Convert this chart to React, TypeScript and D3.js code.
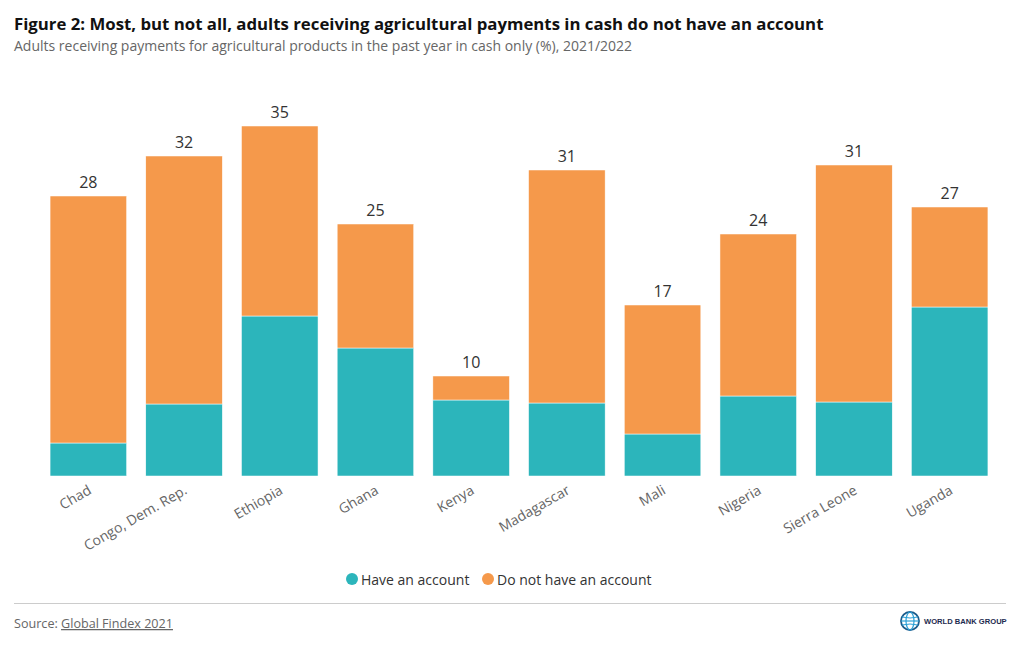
import React from "react";
import * as d3 from "d3";

const countries = ["Chad", "Congo, Dem. Rep.", "Ethiopia", "Ghana", "Kenya", "Madagascar", "Mali", "Nigeria", "Sierra Leone", "Uganda"];
const haveAccount = [3.3, 7.2, 16.0, 12.8, 7.6, 7.3, 4.2, 8.0, 7.4, 16.9];
const totalCash = [28.0, 32.0, 35.0, 25.2, 10.0, 30.6, 17.1, 24.2, 31.1, 26.9];
const noAccount = totalCash.map((t, i) => t - haveAccount[i]);
const seriesNames = ["Have an account", "Do not have an account"];
const seriesColors = ["#2cb5bb", "#f5994b"];

const W = 1020;
const H = 650;
const FONT = "'Open Sans', sans-serif";

export default function App() {
  const x = d3.scaleBand<string>().domain(countries).range([40.5, 997.5]).paddingInner(0.2).paddingOuter(0.1);
  const y = d3.scaleLinear().domain([0, 35]).range([476, 126]);
  const rows = countries.map((c, i) => ({ c, have: haveAccount[i], no: noAccount[i] }));
  const stack = d3.stack<any>().keys(["have", "no"])(rows as any);

  return (
    <svg width={W} height={H} style={{ position: "absolute", left: 0, top: 0, background: "#fff" }} fontFamily={FONT}>
      <rect width={W} height={H} fill="#fff" />
      <text x={14} y={30} fontSize={16.8} fontWeight={700} fill="#111">
        Figure 2: Most, but not all, adults receiving agricultural payments in cash do not have an account
      </text>
      <text x={14} y={51} fontSize={14} fill="#666">
        Adults receiving payments for agricultural products in the past year in cash only (%), 2021/2022
      </text>
      {stack.map((layer, li) => (
        <g key={li} fill={seriesColors[li]}>
          {layer.map((d: any, i: number) => (
            <rect key={i} x={x(countries[i])} width={x.bandwidth()} y={y(d[1])} height={y(d[0]) - y(d[1])} stroke="#fff" strokeWidth={0.5} />
          ))}
        </g>
      ))}
      {countries.map((c, i) => (
        <text key={c} x={(x(c) as number) + x.bandwidth() / 2} y={y(totalCash[i]) - 8} textAnchor="middle" fontSize={16} fill="#333">
          {Math.round(totalCash[i])}
        </text>
      ))}
      {countries.map((c) => {
        const cx = (x(c) as number) + x.bandwidth() / 2 + 4;
        const cy = 493;
        return (
          <text key={c} transform={`translate(${cx},${cy}) rotate(-30)`} textAnchor="end" fontSize={14} fill="#666">
            {c}
          </text>
        );
      })}
      <g>
        <circle cx={352} cy={579} r={6} fill={seriesColors[0]} />
        <text x={361} y={584.5} fontSize={14} fill="#333">{seriesNames[0]}</text>
        <circle cx={488} cy={579} r={6} fill={seriesColors[1]} />
        <text x={497} y={584.5} fontSize={14} fill="#333">{seriesNames[1]}</text>
      </g>
      <line x1={14} x2={1006} y1={603.5} y2={603.5} stroke="#ccc" strokeWidth={1} />
      <text x={14} y={628} fontSize={12.6} fill="#666">
        Source: <tspan style={{ textDecoration: "underline" }}>Global Findex 2021</tspan>
      </text>
      <g transform="translate(910,621)">
        <circle r={9} fill="none" stroke="#1a5a8a" strokeWidth={1.8} />
        <ellipse rx={4} ry={9} fill="none" stroke="#2a9fd6" strokeWidth={1.2} />
        <line x1={-9} x2={9} y1={0} y2={0} stroke="#2a9fd6" strokeWidth={1.2} />
        <path d="M-8,-4 Q0,-2 8,-4 M-8,4 Q0,2 8,4" fill="none" stroke="#2a9fd6" strokeWidth={1} />
        <text x={14} y={3} fontSize={7.6} fontWeight={700} fill="#1d2b4f" fontFamily="'Liberation Sans', Arial, sans-serif">WORLD BANK GROUP</text>
      </g>
    </svg>
  );
}
